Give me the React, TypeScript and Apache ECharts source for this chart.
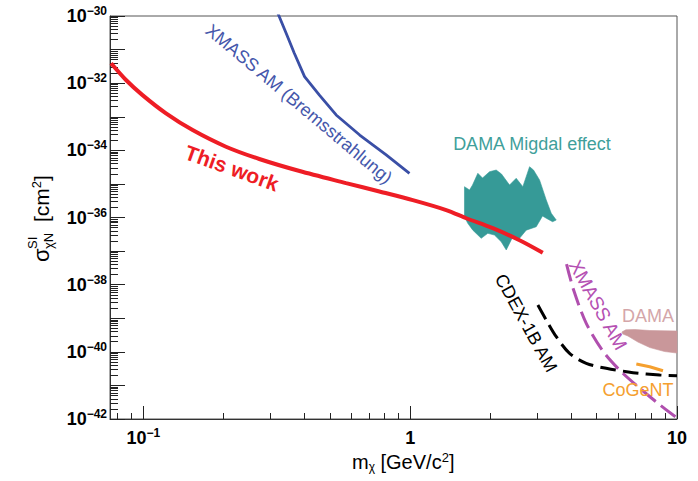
import React, { useEffect, useRef } from 'react';
import * as echarts from 'echarts';

const FONT = '"Liberation Sans", Arial, Helvetica, sans-serif';

// ---- axes ----
const xMin = 0.075;
const xMax = 10;
const yMinExp = -42;
const yMaxExp = -30;
const xMajorTicks = [0.1, 1, 10];
const yMajorExps = [-42, -41, -40, -39, -38, -37, -36, -35, -34, -33, -32, -31, -30];
const yLabelExps = [-42, -40, -38, -36, -34, -32, -30];
const minorMultipliers = [2, 3, 4, 5, 6, 7, 8, 9];
const xDecades = [0.01, 0.1, 1];

// ---- This work (red) ----
const thisWorkMass = [0.0757, 0.0861, 0.0993, 0.1216, 0.153, 0.204, 0.272, 0.385, 0.575, 0.767, 1.023, 1.365, 1.622, 2.04, 2.57, 3.14];
const thisWorkSigma = [3.9e-32, 1.24e-32, 4.4e-33, 1.26e-33, 4.0e-34, 1.28e-34, 5.52e-35, 2.42e-35, 1.06e-35, 5.94e-36, 3.3e-36, 1.67e-36, 9.5e-37, 4.8e-37, 2.1e-37, 8.9e-38];

// ---- XMASS AM (Bremsstrahlung) (blue) ----
const xmassBremMass = [0.319, 0.343, 0.368, 0.402, 0.457, 0.528, 0.647, 0.813, 0.994];
const xmassBremSigma = [1.23e-30, 3.05e-31, 7.75e-32, 1.56e-32, 4.4e-33, 1.13e-33, 2.86e-34, 7.3e-35, 2.07e-35];

// ---- CDEX-1B AM (black dashed) ----
const cdexMass = [3.01, 3.236, 3.528, 3.957, 4.57, 5.43, 6.84, 8.61, 10];
const cdexSigma = [2.48e-39, 8.85e-40, 2.82e-40, 9.0e-41, 4.54e-41, 3.23e-41, 2.39e-41, 2.04e-41, 1.94e-41];

// ---- XMASS AM (magenta dashed) ----
const xmassAmMass = [3.855, 4.098, 4.57, 5.31, 6.2, 7.24, 8.46, 10];
const xmassAmSigma = [4.12e-38, 6.93e-39, 7.06e-40, 9.86e-41, 2.5e-41, 8.35e-42, 2.99e-42, 1.07e-42];

// ---- CoGeNT (orange) ----
const cogentMass = [7.04, 7.9, 8.86];
const cogentSigma = [4.34e-41, 3.6e-41, 2.73e-41];

// ---- DAMA (pink region) ----
const damaMass = [6.214, 6.43, 6.954, 7.91, 10, 10, 8.985, 7.91, 7.136, 6.545, 6.27];
const damaSigma = [3.89e-40, 4.52e-40, 4.61e-40, 4.31e-40, 4.16e-40, 9.2e-41, 1.02e-40, 1.34e-40, 1.96e-40, 2.96e-40, 3.39e-40];

// ---- DAMA Migdal effect (teal region) ----
const migdalMass = [1.598, 1.669, 1.713, 1.793, 1.867, 1.984, 2.101, 2.199, 2.357, 2.497, 2.644, 2.802, 2.899, 3.054, 3.236, 3.379, 3.527, 3.417, 3.236, 3.134, 2.968, 2.722, 2.569, 2.425, 2.291, 2.194, 2.07, 1.954, 1.846, 1.793, 1.717, 1.644, 1.598];
const migdalSigma = [8.26e-36, 6.58e-36, 9.27e-36, 2.07e-35, 1.5e-35, 2.31e-35, 2.59e-35, 1.97e-35, 9.27e-36, 1.47e-35, 8.26e-36, 3.25e-35, 2.59e-35, 1.31e-35, 3.32e-36, 1.33e-36, 8.4e-37, 7.5e-37, 9.5e-37, 1.11e-36, 5.3e-37, 4.2e-37, 2.4e-37, 2.68e-37, 1.08e-37, 1.9e-37, 3.0e-37, 3.38e-37, 2.4e-37, 3.0e-37, 4.2e-37, 6.7e-37, 1.05e-36];

const toLog = (mass: number[], sigma: number[]) =>
  mass.map((m, i) => [Math.log10(m), Math.log10(sigma[i])]);

const xMinorTickValues: number[] = [];
xDecades.forEach((d) =>
  minorMultipliers.forEach((k) => {
    const v = k * d;
    if (v > xMin && v < xMax) xMinorTickValues.push(Math.log10(v));
  })
);
const yMinorTickValues: number[] = [];
yMajorExps.slice(0, -1).forEach((e) =>
  minorMultipliers.forEach((k) => yMinorTickValues.push(e + Math.log10(k)))
);

function lineSeries(mass: number[], sigma: number[], color: string, width: number, type: any, smooth: number | boolean, z = 3) {
  return {
    type: 'line',
    data: toLog(mass, sigma),
    showSymbol: false,
    symbol: 'none',
    smooth,
    silent: true,
    z,
    lineStyle: { color, width, type, cap: 'butt' },
  };
}

function polygonSeries(mass: number[], sigma: number[], color: string, z: number) {
  const data = toLog(mass, sigma);
  return {
    type: 'custom',
    silent: true,
    z,
    data,
    renderItem: (params: any, api: any) => {
      if (params.dataIndex !== 0) return null;
      const pts = data.map((d) => api.coord(d));
      return { type: 'polygon', shape: { points: pts }, style: { fill: color, stroke: color, lineWidth: 0.6 } };
    },
  };
}

const labelRich = {
  b: { fontSize: 18, fontWeight: 'bold', fontFamily: FONT, color: '#000', lineHeight: 22 },
  s: { fontSize: 12, fontWeight: 'bold', fontFamily: FONT, color: '#000', padding: [0, 0, 10, 0] },
};

const expLabel = (e: number) => (e < 0 ? `{b|10}{s|\u2212${-e}}` : `{b|${Math.pow(10, e)}}`);

function annotation(text: string, x: number, y: number, color: string, size: number, angleDeg: number, bold = false) {
  return {
    type: 'text',
    x,
    y,
    rotation: (-angleDeg * Math.PI) / 180,
    silent: true,
    z: 10,
    style: {
      text,
      fill: color,
      fontSize: size,
      fontFamily: FONT,
      fontWeight: bold ? 'bold' : 'normal',
      align: 'center',
      verticalAlign: 'middle',
      textAlign: 'center',
      textVerticalAlign: 'middle',
    },
  };
}

const option: any = {
  animation: false,
  backgroundColor: '#fff',
  grid: { left: 110, right: 21, top: 16, bottom: 62, show: true, borderColor: '#555', borderWidth: 1, backgroundColor: 'transparent' },
  xAxis: [
    {
      type: 'value',
      min: Math.log10(xMin),
      max: Math.log10(xMax),
      position: 'bottom',
      axisLine: { show: true, onZero: false, lineStyle: { color: '#333', width: 1 } },
      axisTick: { show: true, inside: true, length: 13, customValues: xMajorTicks.map((v) => Math.log10(v)), lineStyle: { color: '#222' } },
      axisLabel: { show: true, margin: 8, customValues: xMajorTicks.map((v) => Math.log10(v)), formatter: (v: number) => expLabel(Math.round(v)), rich: labelRich },
      splitLine: { show: false },
    },
    {
      type: 'value',
      min: Math.log10(xMin),
      max: Math.log10(xMax),
      position: 'bottom',
      axisLine: { show: false, onZero: false },
      axisTick: { show: true, inside: true, length: 6, customValues: xMinorTickValues, lineStyle: { color: '#222' } },
      axisLabel: { show: false },
      splitLine: { show: false },
    },
  ],
  yAxis: [
    {
      type: 'value',
      min: yMinExp,
      max: yMaxExp,
      interval: 1,
      position: 'left',
      axisLine: { show: true, onZero: false, lineStyle: { color: '#333', width: 1 } },
      axisTick: { show: true, inside: true, length: 15, customValues: yMajorExps, lineStyle: { color: '#222' } },
      axisLabel: { show: true, margin: 3, customValues: yLabelExps, formatter: (v: number) => expLabel(Math.round(v)), rich: labelRich },
      splitLine: { show: false },
    },
    {
      type: 'value',
      min: yMinExp,
      max: yMaxExp,
      interval: 1,
      position: 'left',
      axisLine: { show: false, onZero: false },
      axisTick: { show: true, inside: true, length: 8, customValues: yMinorTickValues, lineStyle: { color: '#222' } },
      axisLabel: { show: false },
      splitLine: { show: false },
    },
  ],
  series: [
    polygonSeries(migdalMass, migdalSigma, '#369a97', 1),
    polygonSeries(damaMass, damaSigma, '#c9979a', 1),
    lineSeries(thisWorkMass, thisWorkSigma, '#ee1d25', 4, 'solid', 0.3, 4),
    lineSeries(xmassBremMass, xmassBremSigma, '#3a4fa6', 2.8, 'solid', false),
    lineSeries(cdexMass, cdexSigma, '#000', 3, [16, 7], 0.3),
    lineSeries(xmassAmMass, xmassAmSigma, '#b04fae', 3, [18, 7], 0.3),
    lineSeries(cogentMass, cogentSigma, '#f5a02f', 3, 'solid', false),
  ],
  graphic: [
    annotation('XMASS AM (Bremsstrahlung)', 299, 104, '#4557ab', 18, 40),
    annotation('This work', 232, 168, '#ee1d25', 21, 19.8, true),
    annotation('DAMA Migdal effect', 532, 144, '#3f9f9b', 18, 0),
    annotation('CDEX-1B AM', 526, 323, '#000', 18, 61),
    annotation('XMASS AM', 598, 305, '#b551b3', 19, 61),
    annotation('DAMA', 648, 316, '#d4a6a9', 18, 0),
    annotation('CoGeNT', 638, 390, '#f5a02f', 18, 0),
    {
      type: 'text',
      x: 352,
      y: 462,
      silent: true,
      style: {
        text: 'm{sub|\u03c7} [GeV/c{sup|2}]',
        fill: '#000',
        fontSize: 20,
        fontFamily: FONT,
        align: 'left',
        verticalAlign: 'middle',
        textAlign: 'left',
        textVerticalAlign: 'middle',
        rich: {
          sub: { fontSize: 12, fontFamily: FONT, fill: '#000', padding: [9, 0, 0, 0] },
          sup: { fontSize: 13, fontFamily: FONT, fill: '#000', padding: [0, 0, 10, 0] },
        },
      },
    },
    {
      type: 'group',
      x: 41,
      y: 262,
      rotation: Math.PI / 2,
      silent: true,
      children: [
        { type: 'text', x: 0, y: 0, style: { text: '\u03c3', fill: '#000', fontSize: 22, fontFamily: FONT, align: 'left', verticalAlign: 'middle', textAlign: 'left', textVerticalAlign: 'middle' } },
        { type: 'text', x: 13, y: -9, style: { text: 'SI', fill: '#000', fontSize: 13, fontFamily: FONT, align: 'left', verticalAlign: 'middle', textAlign: 'left', textVerticalAlign: 'middle' } },
        { type: 'text', x: 13, y: 7, style: { text: '\u03c7N', fill: '#000', fontSize: 13, fontFamily: FONT, align: 'left', verticalAlign: 'middle', textAlign: 'left', textVerticalAlign: 'middle' } },
        {
          type: 'text',
          x: 40,
          y: 0,
          style: {
            text: '[cm{sup|2}]',
            fill: '#000',
            fontSize: 21,
            fontFamily: FONT,
            align: 'left',
            verticalAlign: 'middle',
            textAlign: 'left',
            textVerticalAlign: 'middle',
            rich: { sup: { fontSize: 13, fontFamily: FONT, fill: '#000', padding: [0, 0, 10, 0] } },
          },
        },
      ],
    },
  ],
};

export default function App() {
  const ref = useRef<HTMLDivElement>(null);
  useEffect(() => {
    if (!ref.current) return;
    const chart = echarts.init(ref.current, null, { renderer: 'svg' });
    chart.setOption(option);
    return () => chart.dispose();
  }, []);
  return <div ref={ref} style={{ position: 'fixed', left: 0, top: 0, width: 698, height: 481, background: '#fff' }} />;
}
